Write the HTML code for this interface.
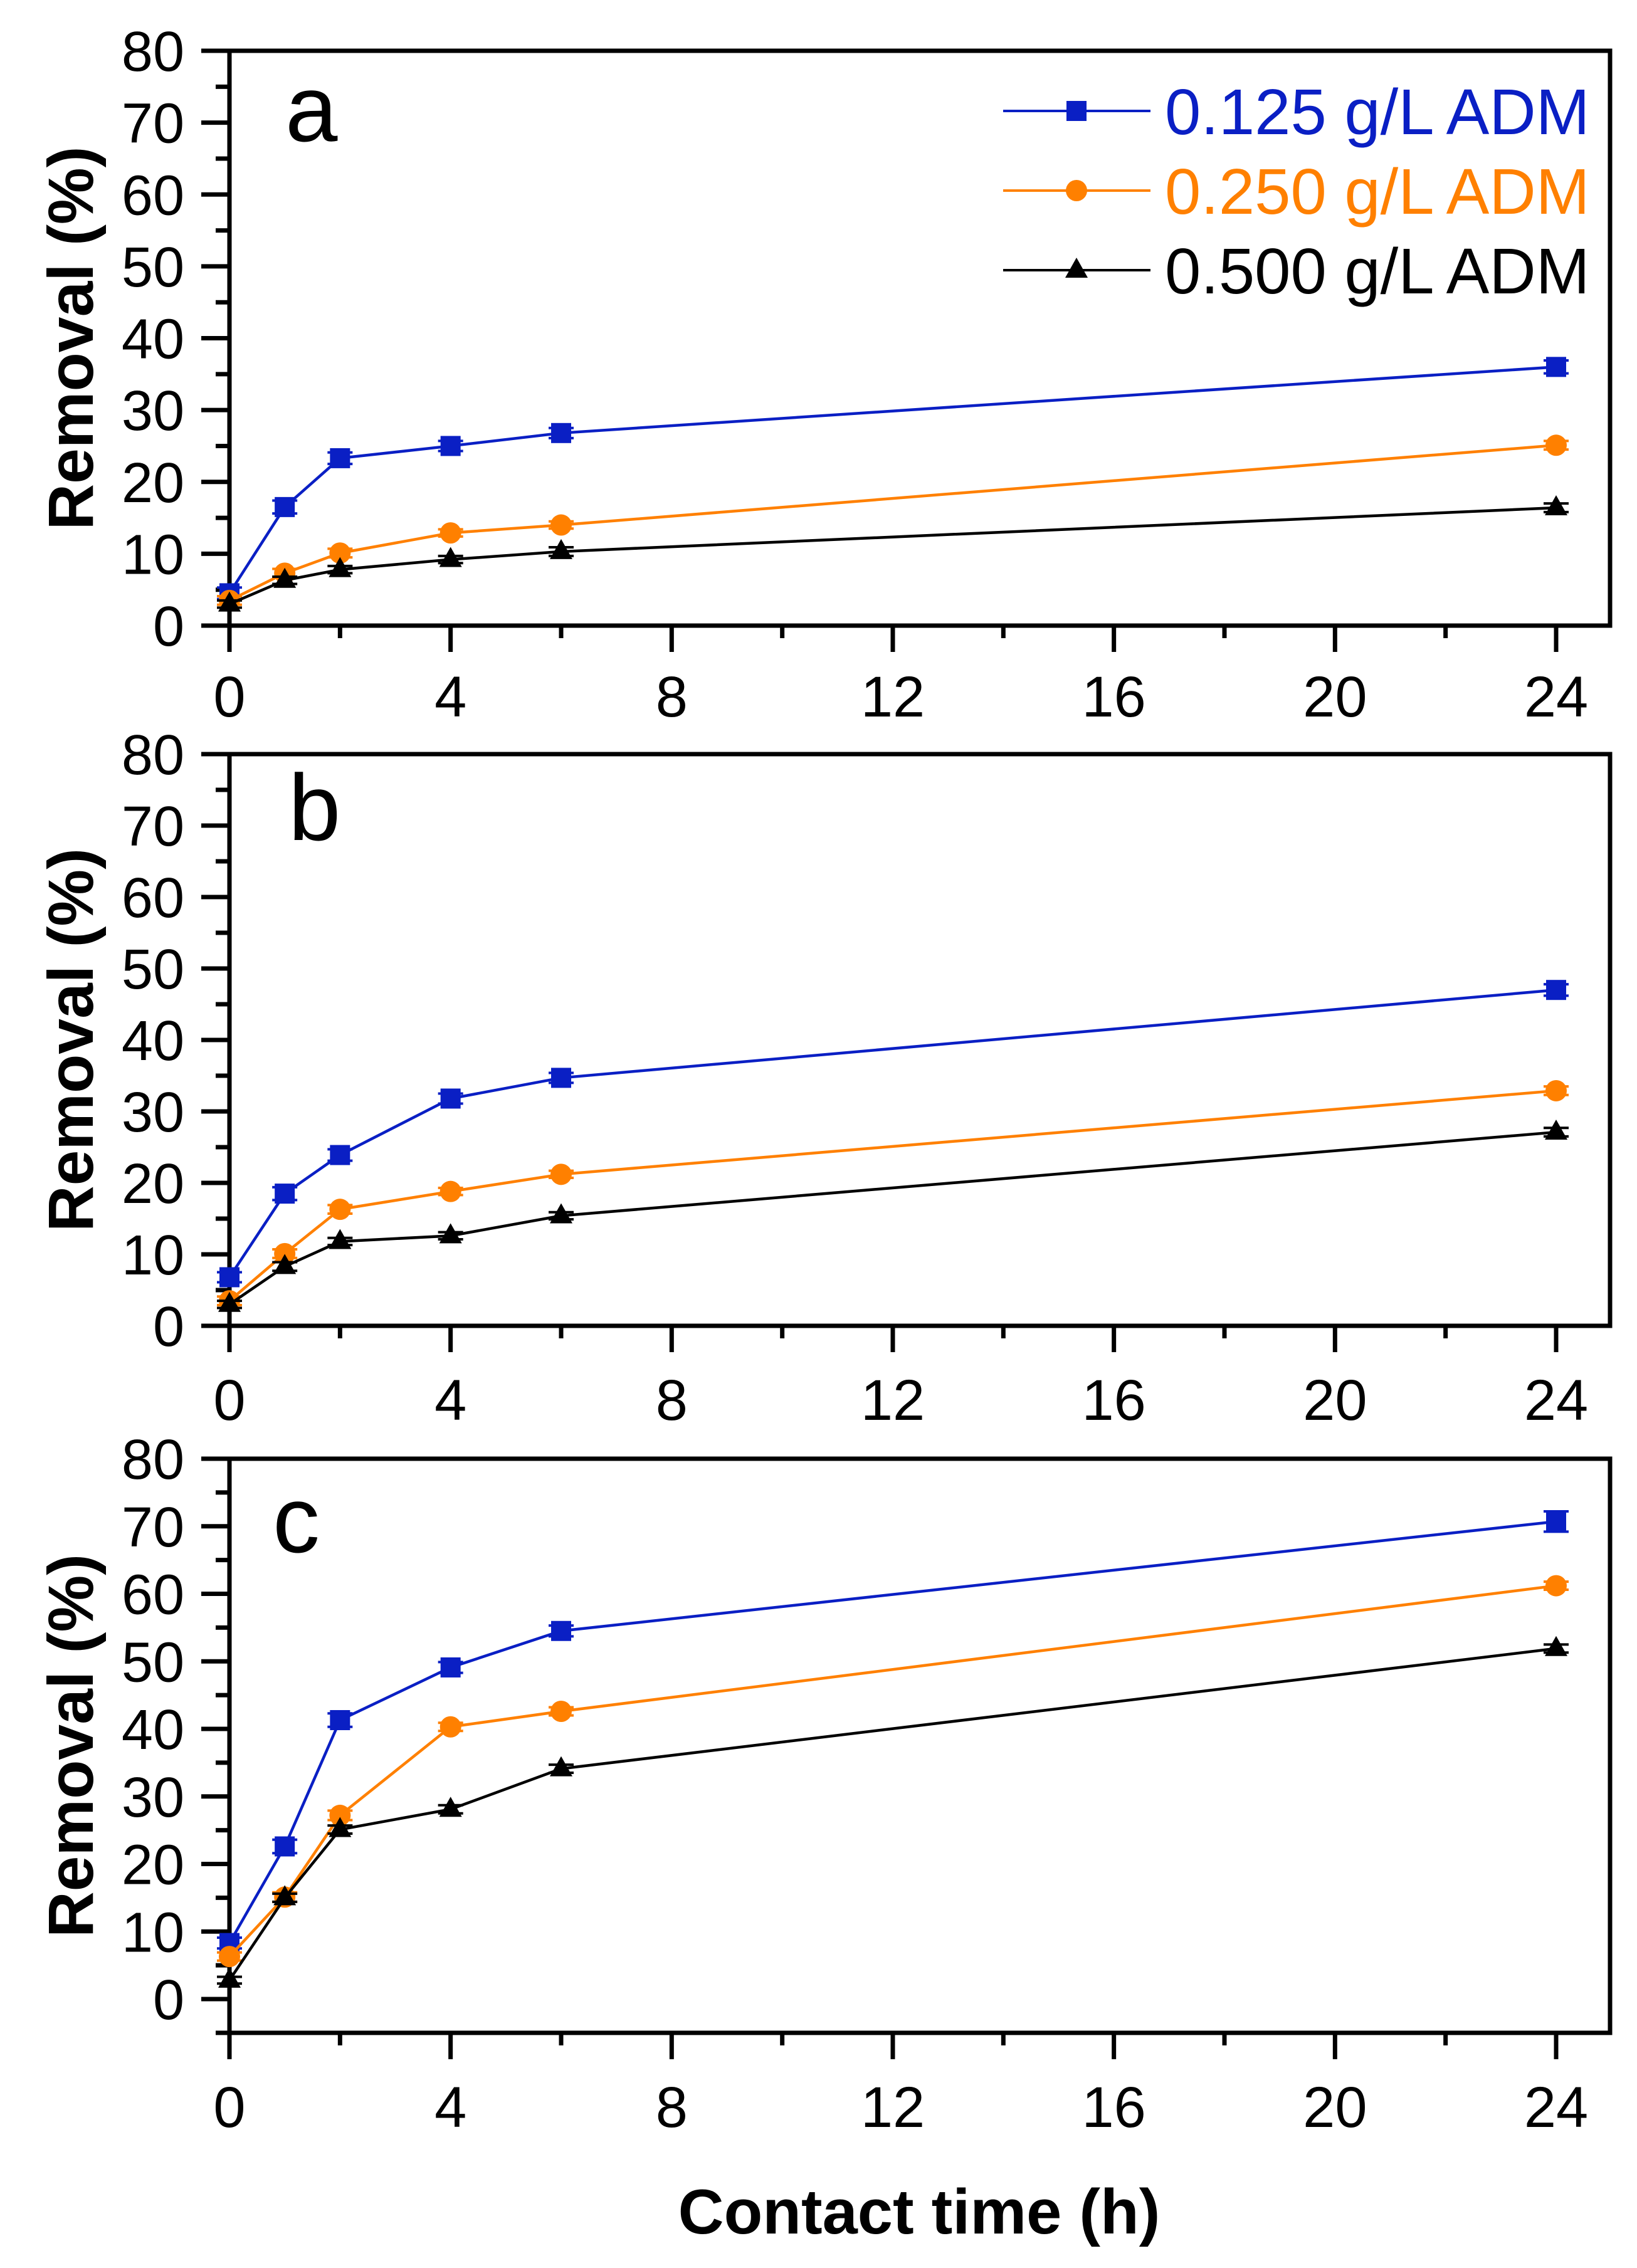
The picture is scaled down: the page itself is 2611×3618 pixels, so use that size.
<!DOCTYPE html>
<html><head><meta charset="utf-8"><style>
html,body{margin:0;padding:0;background:#fff;}
svg{display:block;font-family:"Liberation Sans",Arial,sans-serif;}
</style></head><body>
<svg id="chart" width="2611" height="3618" viewBox="0 0 2611 3618" xmlns="http://www.w3.org/2000/svg"></svg>
<script>
const times = [0, 1, 2, 4, 6, 24];
const seriesNames = ["0.125 g/L ADM", "0.250 g/L ADM", "0.500 g/L ADM"];
const aBlue = [4.5, 16.5, 23.3, 25.0, 26.8, 36.0];
const aOrange = [3.5, 7.3, 10.1, 12.9, 14.0, 25.1];
const aBlack = [3.0, 6.3, 7.8, 9.2, 10.3, 16.4];
const bBlue = [6.8, 18.5, 23.9, 31.8, 34.7, 47.0];
const bOrange = [3.5, 10.1, 16.3, 18.8, 21.2, 32.9];
const bBlack = [3.0, 8.3, 11.8, 12.6, 15.4, 27.1];
const cBlue = [8.3, 22.6, 41.3, 49.1, 54.5, 70.7];
const cOrange = [6.3, 15.1, 27.2, 40.3, 42.6, 61.2];
const cBlack = [2.8, 15.0, 25.1, 28.1, 34.1, 51.9];
const aErr = [[0.8,0.9,0.8,0.7,0.7,0.9],[0.6,0.6,0.6,0.5,0.5,0.6],[0.5,0.5,0.5,0.5,0.6,0.6]];
const bErr = [[0.7,0.9,0.8,0.7,0.7,0.8],[0.6,0.6,0.6,0.5,0.5,0.6],[0.5,0.6,0.5,0.5,0.5,0.6]];
const cErr = [[0.8,1.0,1.0,0.8,0.8,1.5],[0.6,0.7,0.7,0.6,0.6,0.6],[0.5,0.6,0.6,0.6,0.6,0.6]];
const xTicks = [0, 4, 8, 12, 16, 20, 24];
const yTicks = [0, 10, 20, 30, 40, 50, 60, 70, 80];

const colors = ["#0a1fc4", "#ff8000", "#000000"];
const markers = ["square", "circle", "triangle"];
const NS = "http://www.w3.org/2000/svg";
const svg = document.getElementById("chart");
function mk(tag, attrs, parent) {
  const e = document.createElementNS(NS, tag);
  for (const k in attrs) e.setAttribute(k, attrs[k]);
  (parent || svg).appendChild(e);
  return e;
}
const X0 = 366, X24 = 2482, RIGHT = 2568;
const panels = [
  {id:"a", top:81, y0:998, ymin:0, letter:"a", lx:455, ly:225, series:[aBlue,aOrange,aBlack], err:aErr, labY:1143},
  {id:"b", top:1203, y0:2115, ymin:0, letter:"b", lx:460, ly:1340, series:[bBlue,bOrange,bBlack], err:bErr, labY:2265},
  {id:"c", top:2327, y0:3189, ymin:-5, letter:"c", lx:435, ly:2476, series:[cBlue,cOrange,cBlack], err:cErr, labY:3393}
];
function xs(t) { return X0 + (X24 - X0) * t / 24; }

function drawMarker(g, kind, cx, cy, color) {
  let m;
  if (kind === "square") m = mk("rect", {x:cx-16, y:cy-16, width:32, height:32, fill:color}, g);
  else if (kind === "circle") m = mk("circle", {cx:cx, cy:cy, r:17, fill:color}, g);
  else m = mk("polygon", {points:`${cx},${cy-20} ${cx+18},${cy+12} ${cx-18},${cy+12}`, fill:color}, g);
  
  
}

panels.forEach(p => {
  const ys = v => p.y0 - (p.y0 - p.top) * v / 80;
  const bottom = ys(p.ymin);
  const g = mk("g", {});
  
  
  const frame = mk("rect", {x:X0, y:p.top, width:RIGHT - X0, height:bottom - p.top, fill:"none", stroke:"#000", "stroke-width":7}, g);
  
  
  for (let v = p.ymin; v <= 80; v += 5) {
    const major = v % 10 === 0;
    const t = mk("line", {x1:X0 - (major ? 45 : 22), x2:X0, y1:ys(v), y2:ys(v), stroke:"#000", "stroke-width":7}, g);
    
    
  }
  yTicks.forEach(v => {
    const t = mk("text", {x:294, y:ys(v) + 32, "text-anchor":"end", "font-size":90}, g);
    t.textContent = v;
    
    
  });
  for (let h = 0; h <= 24; h += 2) {
    const major = h % 4 === 0;
    const t = mk("line", {x1:xs(h), x2:xs(h), y1:bottom, y2:bottom + (major ? 42 : 20), stroke:"#000", "stroke-width":7}, g);
    
    
  }
  xTicks.forEach(h => {
    const t = mk("text", {x:xs(h), y:p.labY, "text-anchor":"middle", "font-size":92}, g);
    t.textContent = h;
    
    
  });
  const yt = mk("text", {x:0, y:0, "text-anchor":"middle", "font-size":102, "font-weight":"bold", transform:`translate(148,${(p.top + bottom) / 2}) rotate(-90)`}, g);
  yt.textContent = "Removal (%)";
  
  
  const lt = mk("text", {x:p.lx, y:p.ly, "font-size":150}, g);
  lt.textContent = p.letter;
  
  
  p.series.forEach((vals, si) => {
    const sg = mk("g", {}, g);
    
    
    const pts = vals.map((v, i) => xs(times[i]) + "," + ys(v)).join(" ");
    const line = mk("polyline", {points:pts, fill:"none", stroke:colors[si], "stroke-width":4.5}, sg);
    
    
    vals.forEach((v, i) => {
      const cx = xs(times[i]), e = p.err[si][i];
      const eb = mk("path", {d:`M${cx},${ys(v+e)}V${ys(v-e)}M${cx-20},${ys(v+e)}H${cx+20}M${cx-20},${ys(v-e)}H${cx+20}`, stroke:colors[si], "stroke-width":4, fill:"none"}, sg);
      
      
      drawMarker(sg, markers[si], cx, ys(v), colors[si]);
    });
  });
});

const legendY = [177, 304, 431];
seriesNames.forEach((n, i) => {
  const lg = mk("g", {});
  
  
  mk("line", {x1:1600, x2:1835, y1:legendY[i], y2:legendY[i], stroke:colors[i], "stroke-width":4}, lg);
  drawMarker(lg, markers[i], 1717, legendY[i], colors[i]);
  const t = mk("text", {x:1858, y:legendY[i] + 37, "font-size":103, fill:colors[i]}, lg);
  t.textContent = n;
});
const xt = mk("text", {x:1466, y:3563, "text-anchor":"middle", "font-size":101, "font-weight":"bold"});
xt.textContent = "Contact time (h)";


</script>
</body></html>
